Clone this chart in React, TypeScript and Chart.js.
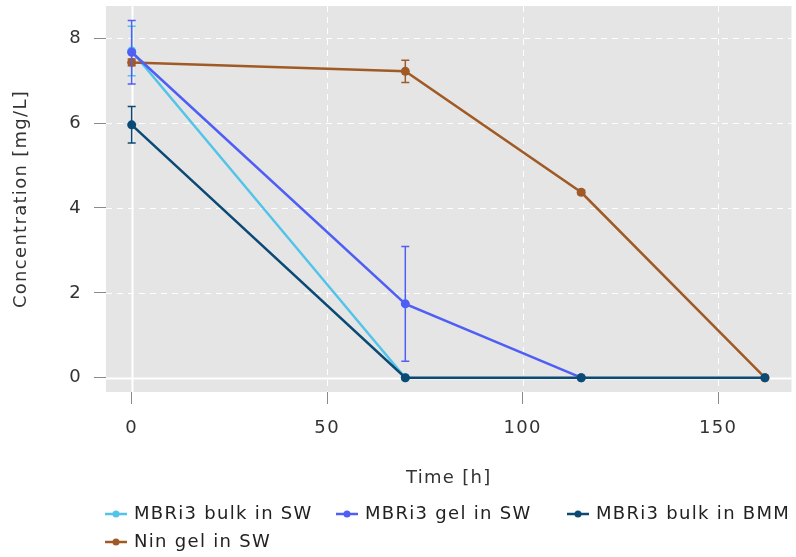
import React, { useEffect, useRef } from "react";
import { Chart, registerables } from "chart.js";

Chart.register(...registerables);

const seriesLabels = ["MBRi3 bulk in SW", "MBRi3 gel in SW", "MBRi3 bulk in BMM", "Nin gel in SW"];
const seriesColors = ["#52C3E9", "#4F5FF6", "#0B4A75", "#A05A26"];

const bulkSwTime = [0, 70];
const bulkSwConc = [7.7, 0];
const bulkSwErr = [0.585, 0];

const gelSwTime = [0, 70, 115];
const gelSwConc = [7.67, 1.74, 0];
const gelSwErr = [0.75, 1.35, 0];

const bulkBmmTime = [0, 70, 115, 162];
const bulkBmmConc = [5.96, 0, 0, 0];
const bulkBmmErr = [0.43, 0, 0, 0];

const ninGelTime = [0, 70, 115, 162];
const ninGelConc = [7.43, 7.22, 4.37, 0];
const ninGelErr = [0.08, 0.26, 0.05, 0];

const xTicks = [0, 50, 100, 150];
const yTicks = [0, 2, 4, 6, 8];

const FONT = "'DejaVu Sans', sans-serif";
const FS = 18;
const SPACING = "1.3px";

function pts(xs: number[], ys: number[]) {
  return xs.map((x, i) => ({ x, y: ys[i] }));
}

const panelPlugin = {
  id: "panel",
  beforeInit(chart: any) {
    (chart.ctx as any).letterSpacing = SPACING;
  },
  beforeUpdate(chart: any) {
    (chart.ctx as any).letterSpacing = SPACING;
  },
  beforeDraw(chart: any) {
    (chart.ctx as any).letterSpacing = SPACING;
  },
  beforeDatasetsDraw(chart: any) {
    const { ctx, chartArea } = chart;
    const xs = chart.scales.x;
    const ys = chart.scales.y;
    ctx.save();
    ctx.fillStyle = "#E5E5E5";
    ctx.fillRect(chartArea.left, chartArea.top, chartArea.right - chartArea.left, chartArea.bottom - chartArea.top);
    ctx.strokeStyle = "#FFFFFF";
    yTicks.forEach((v) => {
      const y = Math.round(ys.getPixelForValue(v)) + 0.5;
      ctx.beginPath();
      if (v === 0) { ctx.setLineDash([]); ctx.lineWidth = 2; } else { ctx.setLineDash([6, 5]); ctx.lineWidth = 1; }
      ctx.moveTo(chartArea.left, y);
      ctx.lineTo(chartArea.right, y);
      ctx.stroke();
    });
    xTicks.forEach((v) => {
      const x = Math.round(xs.getPixelForValue(v)) + 0.5;
      ctx.beginPath();
      if (v === 0) { ctx.setLineDash([]); ctx.lineWidth = 2; } else { ctx.setLineDash([6, 5]); ctx.lineWidth = 1; }
      ctx.moveTo(x, chartArea.top);
      ctx.lineTo(x, chartArea.bottom);
      ctx.stroke();
    });
    ctx.restore();
  },
  afterDatasetDraw(chart: any, args: any) {
    const ds = chart.data.datasets[args.index];
    const errs: number[] = ds.errors || [];
    const meta = chart.getDatasetMeta(args.index);
    const ys = chart.scales.y;
    const { ctx } = chart;
    ctx.save();
    ctx.strokeStyle = ds.borderColor;
    ctx.lineWidth = 1.5;
    meta.data.forEach((el: any, i: number) => {
      const e = errs[i];
      if (!e) return;
      const v = ds.data[i].y;
      const x = el.x;
      const y1 = ys.getPixelForValue(v + e);
      const y2 = ys.getPixelForValue(v - e);
      ctx.beginPath();
      ctx.moveTo(x, y1);
      ctx.lineTo(x, y2);
      ctx.moveTo(x - 4, y1);
      ctx.lineTo(x + 4, y1);
      ctx.moveTo(x - 4, y2);
      ctx.lineTo(x + 4, y2);
      ctx.stroke();
    });
    ctx.restore();
  },
  afterDraw(chart: any) {
    const { ctx } = chart;
    const colX = [105, 336, 567];
    const rowY = [514, 542];
    ctx.save();
    ctx.font = `${FS}px ${FONT}`;
    (ctx as any).letterSpacing = SPACING;
    ctx.textBaseline = "middle";
    ctx.textAlign = "left";
    seriesLabels.forEach((label, i) => {
      const x = colX[i % 3];
      const y = rowY[Math.floor(i / 3)];
      ctx.strokeStyle = seriesColors[i];
      ctx.fillStyle = seriesColors[i];
      ctx.lineWidth = 2.5;
      ctx.beginPath();
      ctx.moveTo(x, y);
      ctx.lineTo(x + 22, y);
      ctx.stroke();
      ctx.beginPath();
      ctx.arc(x + 11, y, 3.5, 0, Math.PI * 2);
      ctx.fill();
      ctx.fillStyle = "#222222";
      ctx.fillText(label, x + 29, y);
    });
    ctx.restore();
  },
};

export default function App() {
  const ref = useRef<HTMLCanvasElement | null>(null);
  useEffect(() => {
    if (!ref.current) return;
    const mk = (i: number, xs: number[], ys: number[], es: number[], order: number) => ({
      label: seriesLabels[i],
      data: pts(xs, ys),
      errors: es,
      borderColor: seriesColors[i],
      backgroundColor: seriesColors[i],
      borderWidth: 2.5,
      pointRadius: 4.5,
      pointHoverRadius: 4.5,
      pointBorderWidth: 0,
      tension: 0,
      order,
    });
    const zeroPad = (s: any) => { s.paddingTop = 0; s.paddingBottom = 0; s.paddingLeft = 0; s.paddingRight = 0; };
    const chart = new Chart(ref.current, {
      type: "line",
      data: {
        datasets: [
          mk(0, bulkSwTime, bulkSwConc, bulkSwErr, 4),
          mk(1, gelSwTime, gelSwConc, gelSwErr, 2),
          mk(2, bulkBmmTime, bulkBmmConc, bulkBmmErr, 1),
          mk(3, ninGelTime, ninGelConc, ninGelErr, 3),
        ] as any,
      },
      options: {
        animation: false,
        responsive: true,
        maintainAspectRatio: false,
        layout: { padding: { top: 6, right: 4, left: 0, bottom: 65 } },
        plugins: { legend: { display: false }, tooltip: { enabled: false } },
        scales: {
          x: {
            type: "linear",
            min: -6.57,
            max: 168.8,
            afterBuildTicks: (s: any) => { s.ticks = xTicks.map((v) => ({ value: v })); },
            afterFit: (s: any) => { s.height = 100; zeroPad(s); },
            grid: { drawOnChartArea: false, drawTicks: true, tickLength: 12, color: "#8a8a8a", lineWidth: 1 },
            border: { display: false },
            ticks: { padding: 14, color: "#333333", font: { family: FONT, size: FS }, maxRotation: 0 },
            title: { display: true, text: "Time [h]", color: "#333333", font: { family: FONT, size: FS }, padding: { top: 4, bottom: 3 } },
          },
          y: {
            type: "linear",
            min: -0.337,
            max: 8.76,
            afterBuildTicks: (s: any) => { s.ticks = yTicks.map((v) => ({ value: v })); },
            afterFit: (s: any) => { s.width = 106; zeroPad(s); },
            grid: { drawOnChartArea: false, drawTicks: true, tickLength: 12, color: "#8a8a8a", lineWidth: 1 },
            border: { display: false },
            ticks: { padding: 12, color: "#333333", font: { family: FONT, size: FS } },
            title: { display: true, text: "Concentration [mg/L]", color: "#333333", font: { family: FONT, size: FS }, padding: { top: 11, bottom: 4 } },
          },
        },
      } as any,
      plugins: [panelPlugin],
    });
    return () => chart.destroy();
  }, []);
  return (
    <div style={{ position: "fixed", left: 0, top: 0, width: 796, height: 557, background: "#fff" }}>
      <canvas ref={ref} />
    </div>
  );
}
